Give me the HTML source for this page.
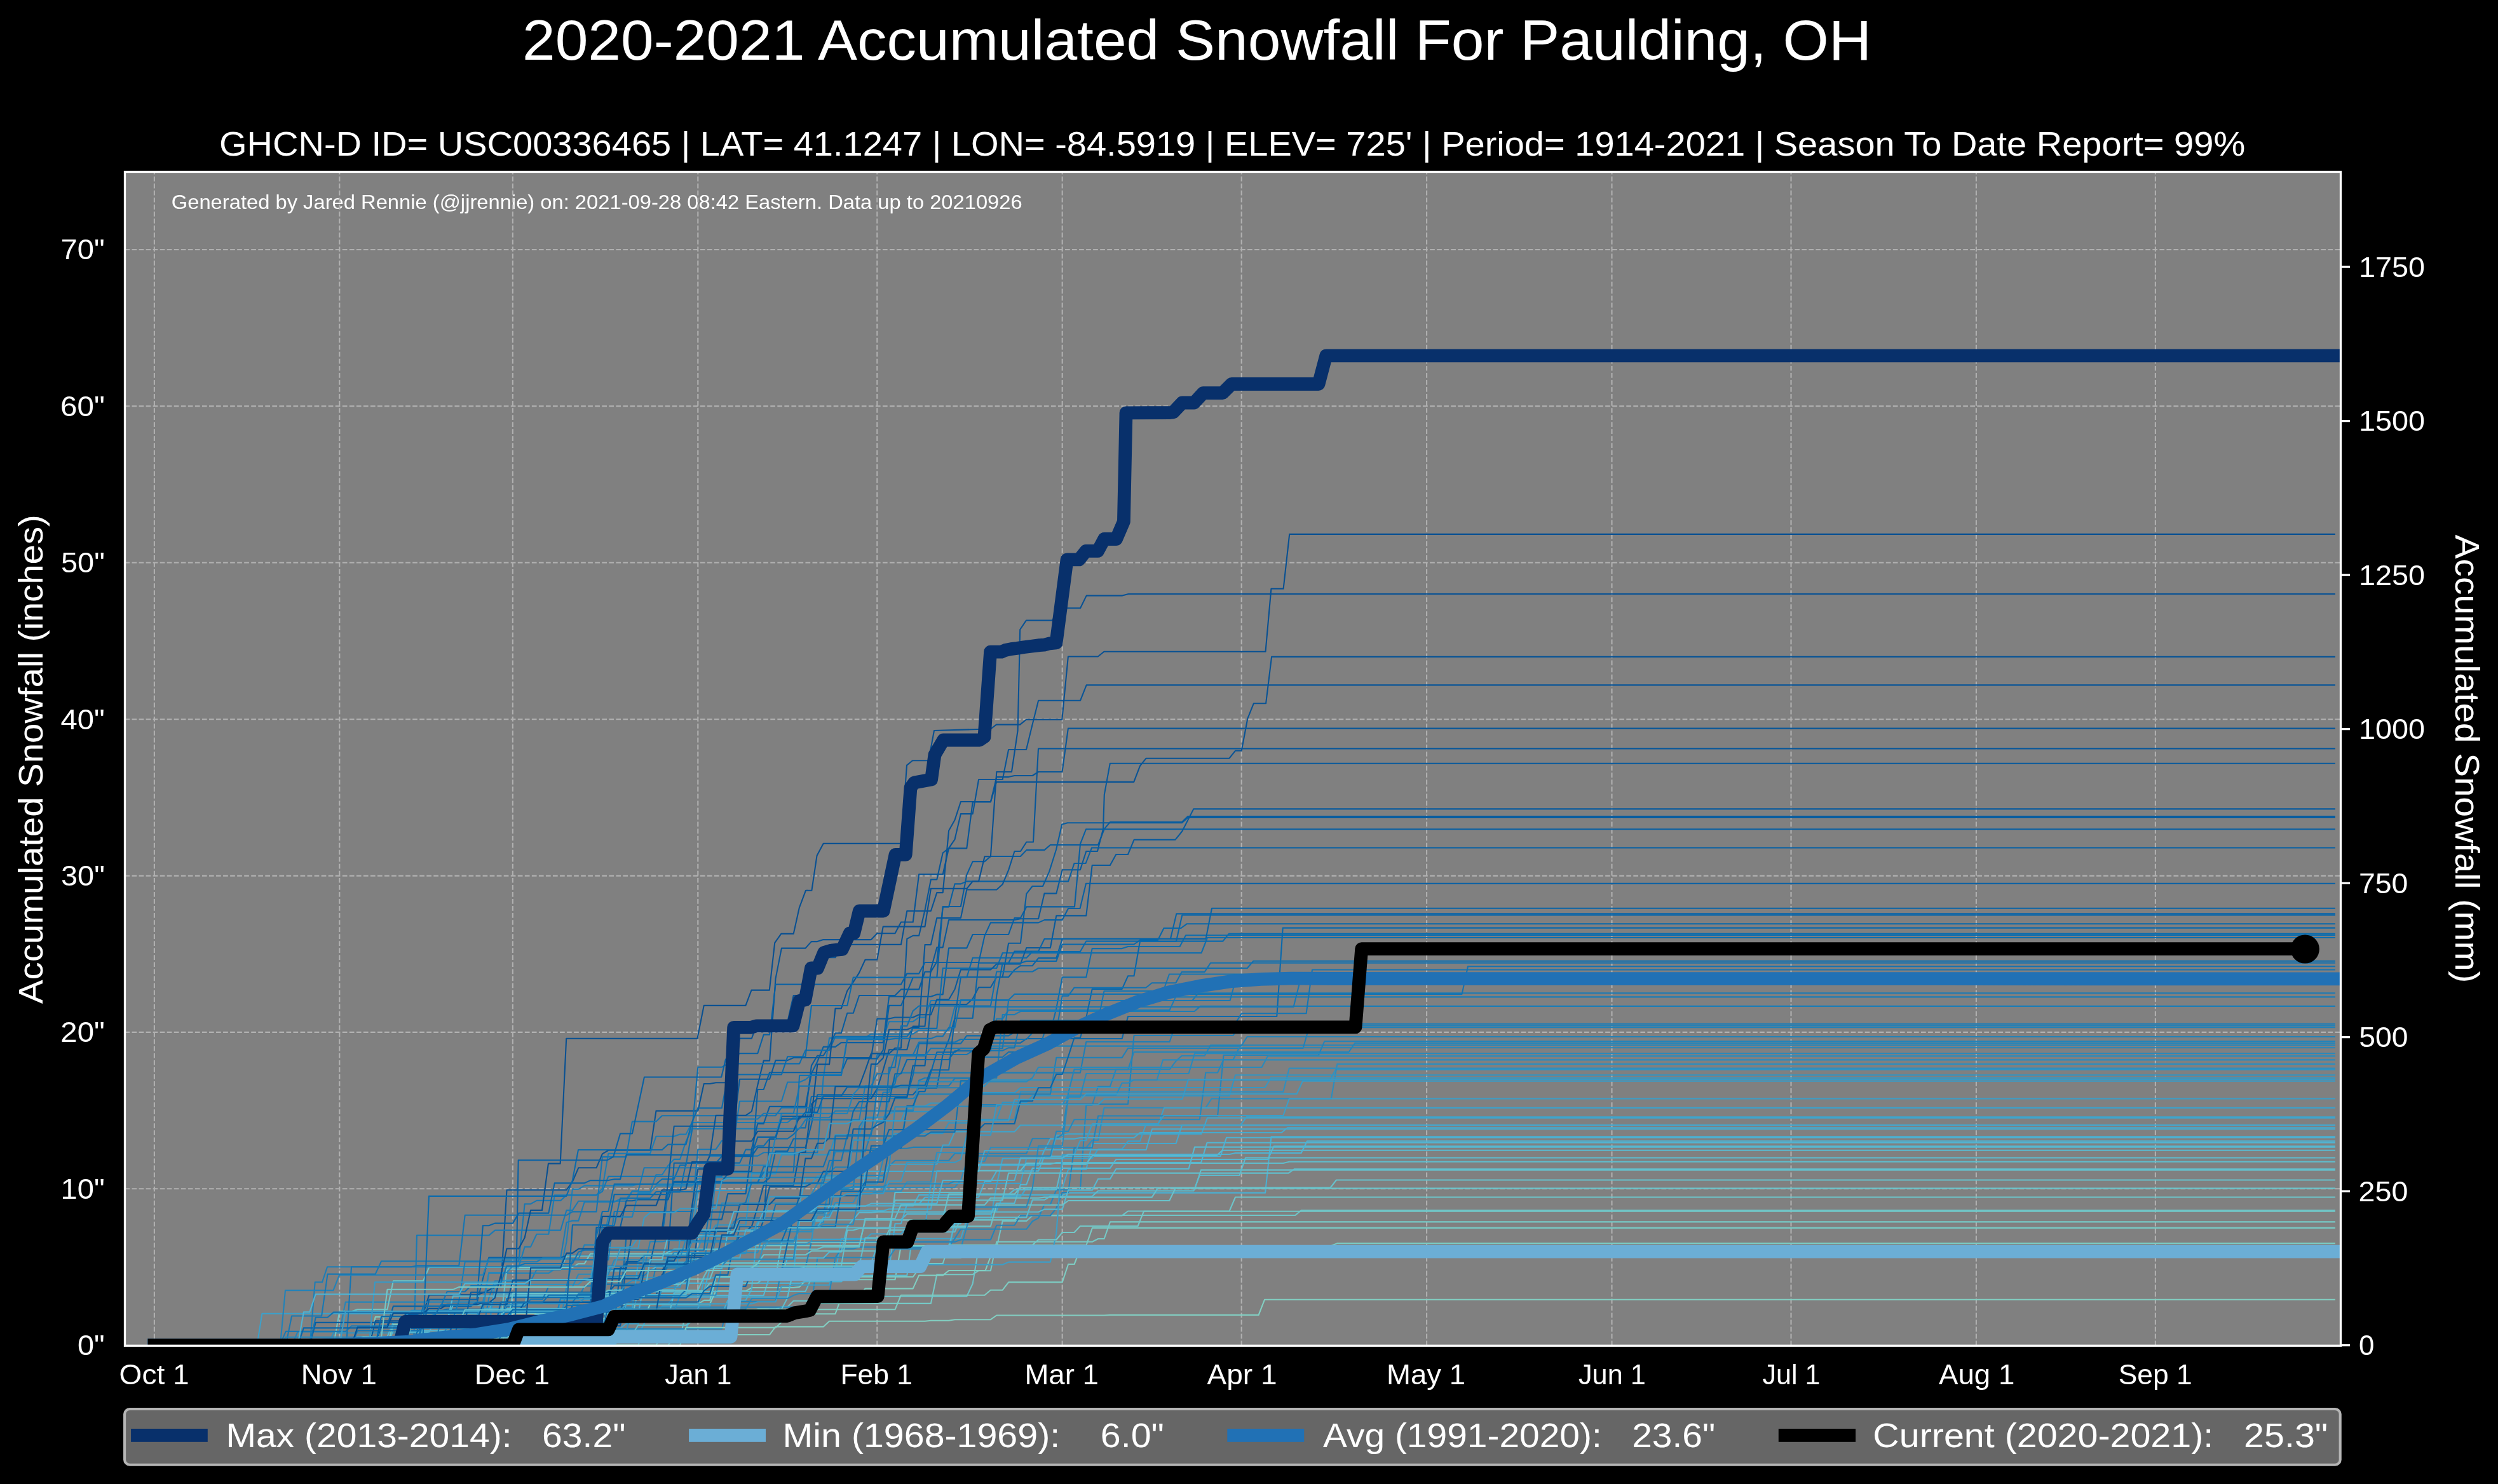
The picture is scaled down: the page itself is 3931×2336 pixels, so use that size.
<!DOCTYPE html>
<html><head><meta charset="utf-8"><title>2020-2021 Accumulated Snowfall For Paulding, OH</title><style>html,body{margin:0;padding:0;background:#000;width:3931px;height:2336px;overflow:hidden}svg text{font-family:"Liberation Sans",sans-serif}</style></head><body>
<svg xmlns="http://www.w3.org/2000/svg" width="3931" height="2336" viewBox="0 0 3931 2336" style="position:absolute;left:0;top:0;display:block;will-change:transform" font-family='"Liberation Sans", sans-serif'>
<rect width="3931" height="2336" fill="#000"/>
<rect x="196.5" y="270.5" width="3487" height="1847.8" fill="#808080"/>
<text x="269.8" y="329" font-size="30.9" text-anchor="start" fill="#fff" textLength="1338.9" lengthAdjust="spacingAndGlyphs">Generated by Jared Rennie (@jjrennie) on: 2021-09-28 08:42 Eastern. Data up to 20210926</text>
<clipPath id="pc"><rect x="196.5" y="270.5" width="3487" height="1847.8"/></clipPath>
<path d="M242.9 2118.3V270.5M534.3 2118.3V270.5M806.9 2118.3V270.5M1098.3 2118.3V270.5M1380.3 2118.3V270.5M1671.7 2118.3V270.5M1953.7 2118.3V270.5M2245.1 2118.3V270.5M2536.5 2118.3V270.5M2818.5 2118.3V270.5M3109.9 2118.3V270.5M3391.9 2118.3V270.5M196.5 1871.3H3683.5M196.5 1624.9H3683.5M196.5 1378.6H3683.5M196.5 1132.2H3683.5M196.5 885.8H3683.5M196.5 639.4H3683.5M196.5 393H3683.5" stroke="#b0b0b0" stroke-width="2.08" stroke-dasharray="7.708 3.333" fill="none"/>
<g clip-path="url(#pc)" fill="none" stroke-linejoin="round">
<polyline points="242.9,2117.7 1004.3,2117.7 1013.7,2094.4 1079.5,2094.4 1088.9,2062.7 1182.9,2062.7 1192.3,2060.4 1220.5,2060.4 1229.9,2057.2 1239.3,2057.2 1248.7,2047.7 1342.7,2047.7 1352.1,2040.8 1521.3,2040.8 1530.7,2020.7 1540.1,1964.3 1568.3,1964.3 1577.7,1921.9 1615.3,1921.9 1624.7,1913.4 1765.7,1913.4 1775.1,1906.5 1934.6,1906.5 1944,1884.5 3673.9,1884.5" stroke="#6dc4c9" stroke-width="2.08" stroke-linecap="square"/>
<polyline points="242.9,2117.7 609.5,2117.7 618.9,2091 976.1,2091 985.5,2083.7 1004.3,2083.7 1013.7,2066.7 1032.5,2066.7 1041.9,2056.1 1117.1,2056.1 1126.5,2010.6 1182.9,2010.6 1192.3,2007.5 1201.7,2007.5 1211.1,2004.6 1314.5,2004.6 1323.9,1949.7 1511.9,1949.7 1521.3,1919.5 1558.9,1919.5 1568.3,1865.6 1577.7,1823.7 1652.9,1823.7 1662.3,1787.1 1671.7,1787.1 1681.1,1785 1890.6,1785 1900,1759.7 3673.9,1759.7" stroke="#41a5cb" stroke-width="2.08" stroke-linecap="square"/>
<polyline points="242.9,2117.7 703.5,2117.7 712.9,2096.9 882.1,2096.9 891.5,2083.6 966.7,2083.6 976.1,2057.6 1276.9,2057.6 1286.3,1980.1 1314.5,1980.1 1323.9,1965.8 1342.7,1965.8 1352.1,1963 1493.1,1963 1502.5,1949.6 1511.9,1934.8 1615.3,1934.8 1624.7,1922.5 1634.1,1917.3 1643.5,1896 1652.9,1896 1662.3,1873 1699.9,1873 1709.3,1739.7 1718.7,1739.7 1728.1,1710.3 1746.9,1710.3 1756.3,1683.1 1840.9,1683.1 1850.3,1670.5 1859.7,1662 1895.6,1662 1905,1645.2 3673.9,1645.2" stroke="#2586bb" stroke-width="2.08" stroke-linecap="square"/>
<polyline points="242.9,2117.7 882.1,2117.7 891.5,2098.3 947.9,2098.3 957.3,2036.9 1023.1,2036.9 1032.5,1991.7 1117.1,1991.7 1126.5,1946.7 1145.3,1946.7 1154.7,1923.4 1164.1,1917.3 1229.9,1917.3 1239.3,1909.5 1295.7,1909.5 1305.1,1872.4 1342.7,1872.4 1352.1,1773.4 1361.5,1759.5 1380.3,1759.5 1389.7,1719.6 1399.1,1719.6 1408.5,1698.8 1417.9,1688.6 1699.9,1688.6 1709.3,1640 1840.6,1640 1850,1611.8 3673.9,1611.8" stroke="#1e7eb7" stroke-width="2.08" stroke-linecap="square"/>
<polyline points="242.9,2117.7 1051.3,2117.7 1060.7,2106 1070.1,2106 1079.5,2066.5 1267.5,2066.5 1276.9,2051.9 1464.9,2051.9 1474.3,2006.2 1530.7,2006.2 1540.1,2000.2 1558.9,2000.2 1568.3,1954.8 1718.7,1954.8 1728.1,1950 1737.6,1950 1747,1923.4 3673.9,1923.4" stroke="#75c9c6" stroke-width="2.08" stroke-linecap="square"/>
<polyline points="242.9,2117.7 581.3,2117.7 590.7,2073 797.5,2073 806.9,2067 1051.3,2067 1060.7,2064 1154.7,2064 1164.1,2061.3 1408.5,2061.3 1417.9,2038.7 1549.5,2038.7 1558.9,2030.7 1577.7,2030.7 1587.1,2018.4 1671.7,2018.4 1681.1,1990 1690.6,1990 1700,1966 3673.9,1966" stroke="#7dcdc3" stroke-width="2.08" stroke-linecap="square"/>
<polyline points="242.9,2117.7 515.5,2117.7 524.9,2098.2 741.1,2098.2 750.5,2091.4 769.3,2091.4 778.7,2021.9 910.3,2021.9 919.7,2012.3 957.3,2012.3 966.7,2010.7 1041.9,2010.7 1051.3,1972.8 1060.7,1966.5 1098.3,1966.5 1107.7,1941 1117.1,1941 1126.5,1928.3 1173.5,1928.3 1182.9,1847.8 1220.5,1847.8 1229.9,1817.8 1305.1,1817.8 1314.5,1786.2 1352.1,1786.2 1361.5,1758.5 1389.7,1758.5 1399.1,1753.1 1408.5,1749.9 1493.1,1749.9 1502.5,1719 1521.3,1719 1530.7,1709.6 1549.5,1709.6 1558.9,1700 2092.6,1700 2102,1683.6 3673.9,1683.6" stroke="#3092c1" stroke-width="2.08" stroke-linecap="square"/>
<polyline points="242.9,2117.7 618.9,2117.7 628.3,2096.6 637.7,2096.6 647.1,2063.4 694.1,2063.4 703.5,2060.8 919.7,2060.8 929.1,2053.4 976.1,2053.4 985.5,1947.3 1041.9,1947.3 1051.3,1876.4 1070.1,1876.4 1079.5,1830.6 1164.1,1830.6 1173.5,1809.6 1182.9,1809.6 1192.3,1803.8 1201.7,1803.8 1211.1,1792.5 1239.3,1792.5 1248.7,1785.7 1258.1,1775.4 1267.5,1775.4 1276.9,1726 1427.3,1726 1436.7,1692.6 1446.1,1642.6 1511.9,1642.6 1521.3,1630.4 1587.1,1630.4 1596.5,1624.8 1652.9,1624.8 1662.3,1587.5 1671.7,1538.2 1709.3,1538.2 1718.7,1493.1 1765.7,1493.1 1775.1,1490 1856.6,1490 1866,1472.3 3673.9,1472.3" stroke="#0d6dae" stroke-width="2.08" stroke-linecap="square"/>
<polyline points="242.9,2117.7 581.3,2117.7 590.7,2079.4 637.7,2079.4 647.1,2068.1 665.9,2068.1 675.3,2038.4 750.5,2038.4 759.9,2035.1 769.3,2030.7 778.7,2026.2 788.1,2026.2 797.5,1873.2 891.5,1873.2 900.9,1860.1 910.3,1838.3 938.5,1838.3 947.9,1816.4 957.3,1810.8 1023.1,1810.8 1032.5,1748.6 1098.3,1748.6 1107.7,1706 1117.1,1706 1126.5,1704.2 1154.7,1704.2 1164.1,1634.6 1182.9,1634.6 1192.3,1608.6 1239.3,1608.6 1248.7,1567 1267.5,1567 1276.9,1533.5 1286.3,1507.2 1314.5,1507.2 1323.9,1486.9 1417.9,1486.9 1427.3,1434 1464.9,1434 1474.3,1405.1 1483.7,1405.1 1493.1,1307.4 1502.5,1290.8 1511.9,1262 1559,1262 1568.1,1230.9 1784.3,1230.9 1794,1205.7 1803.6,1193.7 1934.5,1193.7 1944.1,1181.7 1953.7,1181.7 1963.3,1131.2 1972.9,1107.2 1992.1,1107.2 2001.1,1033.9 3673.9,1033.9" stroke="#085395" stroke-width="2.08" stroke-linecap="square"/>
<polyline points="242.9,2117.7 731.7,2117.7 741.1,2101.6 750.5,2101.6 759.9,2096.5 769.3,2043.3 778.7,2016.6 835.1,2016.6 844.5,1998.6 882.1,1998.6 891.5,1954.7 900.9,1871.9 910.3,1871.9 919.7,1866.4 994.9,1866.4 1004.3,1864 1107.7,1864 1117.1,1845.7 1305.1,1845.7 1314.5,1837.3 1361.5,1837.3 1370.9,1807.7 1427.3,1807.7 1436.7,1805.9 1521.3,1805.9 1530.7,1739 1615.3,1739 1624.7,1738 1775.1,1738 1784.5,1630 1940.6,1630 1950,1614.5 3673.9,1614.5" stroke="#1f80b8" stroke-width="2.08" stroke-linecap="square"/>
<polyline points="242.9,2117.7 651,2117.7 656,1944.6 769.5,1944.6 779,1936.6 882.1,1936.6 891.5,1905.1 900.9,1905.1 910.3,1890.7 985.5,1890.7 994.9,1874.9 1004.3,1874.9 1013.7,1838.2 1107.7,1838.2 1117.1,1819.6 1192.3,1819.6 1201.7,1814.3 1286.3,1814.3 1295.7,1696.4 1305.1,1633.9 1389.7,1633.9 1399.1,1608.2 1436.7,1608.2 1446.1,1601.4 1455.5,1601.4 1464.9,1575 1876.3,1575 1885.7,1563.3 3673.9,1563.3" stroke="#1a7ab5" stroke-width="2.08" stroke-linecap="square"/>
<polyline points="242.9,2117.7 590.7,2117.7 600.1,2086.9 609.5,2086.9 618.9,2056.1 741.1,2056.1 750.5,2051.3 759.9,2012.7 769.3,1979.6 882.1,1979.6 891.5,1976.5 1051.3,1976.5 1060.7,1830.8 1126.5,1830.8 1135.9,1820.1 1182.9,1820.1 1192.3,1806.3 1267.5,1806.3 1276.9,1769.8 1286.3,1723.3 1436.7,1723.3 1446.1,1712.6 1474.3,1712.6 1483.7,1659.9 1493.1,1636.7 1502.5,1603.1 1511.9,1538 1587.1,1538 1596.5,1526.7 1605.9,1520.2 1624.7,1520.2 1634.1,1508.1 1662.3,1508.1 1671.7,1477.9 1897.6,1477.9 1907,1429.7 3673.9,1429.7" stroke="#0863a7" stroke-width="2.08" stroke-linecap="square"/>
<polyline points="242.9,2117.7 806.9,2117.7 816.3,2104.3 900.9,2104.3 910.3,2078 957.3,2078 966.7,2030.3 1060.7,2030.3 1070.1,2020.4 1079.5,2020.4 1088.9,1989 1126.5,1989 1135.9,1982.8 1220.5,1982.8 1229.9,1979.7 1248.7,1979.7 1258.1,1922.2 1295.7,1922.2 1305.1,1898.3 1436.7,1898.3 1446.1,1880.9 1671.7,1880.9 1681.1,1877.6 1991.1,1877.6 2000.5,1789.4 3673.9,1789.4" stroke="#4aafd1" stroke-width="2.08" stroke-linecap="square"/>
<polyline points="242.9,2117.7 459.1,2117.7 468.5,2096.4 534.3,2096.4 543.7,2049.6 759.9,2049.6 769.3,2004 863.3,2004 872.7,1998 1013.7,1998 1023.1,1954.4 1041.9,1954.4 1051.3,1952.7 1248.7,1952.7 1258.1,1935.4 1276.9,1935.4 1286.3,1891.5 1295.7,1850.3 1389.7,1850.3 1399.1,1835.8 1408.5,1826.8 1493.1,1826.8 1502.5,1815.8 1615.3,1815.8 1624.7,1792.3 1662.3,1792.3 1671.7,1785.7 1681.1,1720.8 1690.5,1683.4 1775.1,1683.4 1784.5,1656 2122.6,1656 2132,1642.1 3673.9,1642.1" stroke="#2485ba" stroke-width="2.08" stroke-linecap="square"/>
<polyline points="242.9,2117.7 1032.5,2117.7 1041.9,2101 1211.1,2101 1220.5,2088.4 1295.7,2088.4 1305.1,2079.8 1455.5,2079.8 1464.9,2078.8 1493.1,2078.8 1502.5,2077.2 1558.9,2077.2 1568.3,2070.5 1737.5,2070.5 1746.9,2070 1980.6,2070 1990,2045.8 3673.9,2045.8" stroke="#82cfc2" stroke-width="2.08" stroke-linecap="square"/>
<polyline points="242.9,2117.7 524.9,2117.7 534.3,2064.2 553.1,2064.2 562.5,2061.2 609.5,2061.2 618.9,2016.3 665.9,2016.3 675.3,1994.9 900.9,1994.9 910.3,1989.2 919.7,1989.2 929.1,1973.6 1145.3,1973.6 1154.7,1960.7 1352.1,1960.7 1361.5,1920.4 1596.5,1920.4 1605.9,1913 2038.3,1913 2047.7,1905.3 3673.9,1905.3" stroke="#6fc6c8" stroke-width="2.08" stroke-linecap="square"/>
<polyline points="242.9,2117.7 553.1,2117.7 562.5,2088.1 797.5,2088.1 806.9,2084 891.5,2084 900.9,2081.5 976.1,2081.5 985.5,2052.6 1051.3,2052.6 1060.7,2041.6 1239.3,2041.6 1248.7,1998.9 1436.7,1998.9 1446.1,1996.9 1455.5,1983.5 1464.9,1974.5 1474.3,1974.5 1483.7,1970.8 1493.1,1970.8 1502.5,1921.5 1511.9,1905.8 1568.3,1905.8 1577.7,1883.6 1605.9,1883.6 1615.3,1870.2 1671.7,1870.2 1681.1,1840.9 1709.3,1840.9 1718.7,1800 1850.6,1800 1860,1771.1 3673.9,1771.1" stroke="#44a7cd" stroke-width="2.08" stroke-linecap="square"/>
<polyline points="242.9,2117.7 609.5,2117.7 618.9,2094.6 788.1,2094.6 797.5,2039.1 1201.7,2039.1 1211.1,2009.1 1229.9,2009.1 1239.3,1980.3 1295.7,1980.3 1305.1,1970.8 1323.9,1970.8 1333.3,1931 1342.7,1919.7 1417.9,1919.7 1427.3,1910.9 1558.9,1910.9 1568.3,1894 1596.5,1894 1605.9,1864.7 1615.3,1864.7 1624.7,1838.9 1746.9,1838.9 1756.3,1825 1995.2,1825 2004.6,1804.2 3673.9,1804.2" stroke="#54b6d1" stroke-width="2.08" stroke-linecap="square"/>
<polyline points="242.9,2117.7 609.5,2117.7 618.9,2084.6 825.7,2084.6 835.1,2075.6 1013.7,2075.6 1023.1,2052.5 1117.1,2052.5 1126.5,2032.3 1173.5,2032.3 1182.9,2027 1248.7,2027 1258.1,2025.7 1267.5,2015.8 1295.7,2015.8 1305.1,2014.2 1408.5,2014.2 1417.9,1961 2094.9,1961 2104.3,1957.1 3673.9,1957.1" stroke="#7accc4" stroke-width="2.08" stroke-linecap="square"/>
<polyline points="242.9,2117.7 910.3,2117.7 919.7,2101.3 1004.3,2101.3 1013.7,2083.6 1023.1,2069.1 1041.9,2069.1 1051.3,2062.2 1098.3,2062.2 1107.7,2012.3 1117.1,2012.3 1126.5,2010.6 1248.7,2010.6 1258.1,1895.6 1267.5,1854.4 1389.7,1854.4 1399.1,1832.7 1474.3,1832.7 1483.7,1802.5 1493.1,1802.5 1502.5,1781.4 1596.5,1781.4 1605.9,1771.2 1952.1,1771.2 1961.5,1758.3 3673.9,1758.3" stroke="#3fa3ca" stroke-width="2.08" stroke-linecap="square"/>
<polyline points="242.9,2117.7 618.9,2117.7 628.3,2096.9 675.3,2096.9 684.7,2076.8 703.5,2076.8 712.9,2054.4 825.7,2054.4 835.1,2015.3 929.1,2015.3 938.5,2000.5 1023.1,2000.5 1032.5,1994.2 1041.9,1994.2 1051.3,1988 1370.9,1988 1380.3,1962 1493.1,1962 1502.5,1926.4 1511.9,1926.4 1521.3,1875.1 1530.7,1832.7 1652.9,1832.7 1662.3,1830 1890.1,1830 1899.5,1798.8 3673.9,1798.8" stroke="#51b5d2" stroke-width="2.08" stroke-linecap="square"/>
<polyline points="242.9,2117.7 750.5,2117.7 759.9,2073.7 835.1,2073.7 844.5,2068.6 1004.3,2068.6 1013.7,2019.9 1258.1,2019.9 1267.5,2017.4 1323.9,2017.4 1333.3,2010 1342.7,2010 1352.1,2004.3 1361.5,1999.2 1399.1,1999.2 1408.5,1926.3 1417.9,1926.3 1427.3,1895.3 1446.1,1895.3 1455.5,1884.7 1540.1,1884.7 1549.5,1860 1558.9,1860 1568.3,1843.4 1634.1,1843.4 1643.5,1820 1920.6,1820 1930,1790.8 3673.9,1790.8" stroke="#4cb1d2" stroke-width="2.08" stroke-linecap="square"/>
<polyline points="242.9,2117.7 900.9,2117.7 910.3,2082.6 976.1,2082.6 985.5,1986.1 1004.3,1986.1 1013.7,1976.3 1145.3,1976.3 1154.7,1959.1 1164.1,1945.7 1192.3,1945.7 1201.7,1920.4 1211.1,1793 1220.5,1793 1229.9,1757.2 1267.5,1757.2 1276.9,1677.4 1286.3,1661.7 1295.7,1661.7 1305.1,1646.5 1314.5,1626.2 1323.9,1626.2 1333.3,1594.8 1342.7,1594.8 1352.1,1567 1408.5,1567 1417.9,1557.4 1446.1,1557.4 1455.5,1529.7 1464.9,1529.7 1474.3,1513.9 1483.7,1427 1511.9,1427 1521.3,1377.1 1530.7,1356.1 1549.5,1356.1 1558.9,1348 1605.9,1348 1615.3,1338.1 1643.5,1338.1 1652.9,1330 1728,1330 1737.8,1304.9 1746.8,1294.1 1860,1294.1 1869.3,1285 3673.9,1285" stroke="#085c9f" stroke-width="2.08" stroke-linecap="square"/>
<polyline points="242.9,2117.7 769.3,2117.7 778.7,2093.6 788.1,2087.1 976.1,2087.1 985.5,2039.6 1032.5,2039.6 1041.9,2006.4 1088.9,2006.4 1098.3,1938.3 1173.5,1938.3 1182.9,1930.6 1192.3,1899.7 1201.7,1865.8 1248.7,1865.8 1258.1,1813.9 1267.5,1813.9 1276.9,1738 1286.3,1729.3 1370.9,1729.3 1380.3,1713.9 1389.7,1684.6 1399.1,1652.2 1427.3,1652.2 1436.7,1615.5 1455.5,1615.5 1464.9,1525.7 1474.3,1491.4 1483.7,1491.4 1493.1,1448 1596.5,1448 1605.9,1446.2 1634.1,1446.2 1643.5,1406.4 1662.3,1406.4 1671.7,1369.2 1699.9,1369.2 1709.3,1340 1727,1340 1736,1305 1737.8,1250.9 1746.8,1201.8 3673.9,1201.8" stroke="#08599c" stroke-width="2.08" stroke-linecap="square"/>
<polyline points="242.9,2117.7 703.5,2117.7 712.9,2071.4 900.9,2071.4 910.3,2049.4 947.9,2049.4 957.3,2033.9 976.1,2033.9 985.5,2021.1 994.9,2015.9 1041.9,2015.9 1051.3,1984.3 1060.7,1971.8 1192.3,1971.8 1201.7,1939 1276.9,1939 1286.3,1927.7 1295.7,1923.9 1305.1,1869.1 1502.5,1869.1 1511.9,1857.7 1521.3,1828.2 1549.5,1828.2 1558.9,1806.3 1709.3,1806.3 1718.7,1794.9 1728.1,1794.9 1737.5,1743.8 1897.3,1743.8 1906.7,1729.4 2094.9,1729.4 2104.3,1674.9 3673.9,1674.9" stroke="#2c8dbf" stroke-width="2.08" stroke-linecap="square"/>
<polyline points="242.9,2117.7 404.4,2117.7 412.4,2067.9 650,2067.9 750.5,2067.9 759.9,2059.9 994.9,2059.9 1004.3,1986.7 1079.5,1986.7 1088.9,1982.3 1117.1,1982.3 1126.5,1965.7 1201.7,1965.7 1211.1,1950.9 1361.5,1950.9 1370.9,1942.2 1417.9,1942.2 1427.3,1933.3 1455.5,1933.3 1464.9,1862.9 1605.9,1862.9 1615.3,1823.5 1718.7,1823.5 1728.1,1808.9 1765.7,1808.9 1775.1,1796.4 1793.9,1796.4 1803.3,1770 1822.6,1770 1832,1743.9 3673.9,1743.9" stroke="#3da0c9" stroke-width="2.08" stroke-linecap="square"/>
<polyline points="242.9,2117.7 806.9,2117.7 816.3,2095.4 966.7,2095.4 976.1,2092.7 1079.5,2092.7 1088.9,2069.4 1135.9,2069.4 1145.3,2046.7 1173.5,2046.7 1182.9,2029.5 1192.3,1928.1 1201.7,1905.9 1389.7,1905.9 1399.1,1903.2 1464.9,1903.2 1474.3,1843.4 1530.7,1843.4 1540.1,1834.2 1634.1,1834.2 1643.5,1810 1803.6,1810 1813,1777.2 3673.9,1777.2" stroke="#48accf" stroke-width="2.08" stroke-linecap="square"/>
<polyline points="242.9,2117.7 694.1,2117.7 703.5,2099.2 844.5,2099.2 853.9,2098.1 910.3,2098.1 919.7,2095.7 947.9,2095.7 957.3,2053 1098.3,2053 1107.7,2046.9 1117.1,2046.9 1126.5,2010 1436.7,2010 1446.1,1996.9 1455.5,1979.7 1511.9,1979.7 1521.3,1970.8 1568.3,1970.8 1577.7,1960 1709.5,1960 1718.9,1932.9 3673.9,1932.9" stroke="#78cac5" stroke-width="2.08" stroke-linecap="square"/>
<polyline points="242.9,2117.7 872.7,2117.7 882.1,2100.8 919.7,2100.8 929.1,2091.7 1135.9,2091.7 1145.3,2054.1 1154.7,2054.1 1164.1,2048.7 1220.5,2048.7 1229.9,1995.2 1267.5,1995.2 1276.9,1954.9 1502.5,1954.9 1511.9,1951.5 1558.9,1951.5 1568.3,1928.7 1596.5,1928.7 1605.9,1913.5 1652.9,1913.5 1662.3,1901.8 1671.7,1877.1 1681.1,1877.1 1690.5,1806.7 1718.7,1806.7 1728.1,1756.5 1916.1,1756.5 1925.5,1661 2074.9,1661 2084.3,1639.1 3673.9,1639.1" stroke="#2383ba" stroke-width="2.08" stroke-linecap="square"/>
<polyline points="242.9,2117.7 590.7,2117.7 600.1,2072 712.9,2072 722.3,2064.1 769.3,2064.1 778.7,2036.8 1004.3,2036.8 1013.7,2033.5 1107.7,2033.5 1117.1,1997 1126.5,1997 1135.9,1980.3 1164.1,1980.3 1173.5,1935.7 1258.1,1935.7 1267.5,1932.6 1286.3,1932.6 1295.7,1916.8 1305.1,1916.8 1314.5,1896.9 1352.1,1896.9 1361.5,1843.9 1540.1,1843.9 1549.5,1811.3 1643.5,1811.3 1652.9,1792.6 1690.5,1792.6 1699.9,1791 1784.5,1791 1793.9,1783 2016.6,1783 2026,1775.2 3673.9,1775.2" stroke="#46aace" stroke-width="2.08" stroke-linecap="square"/>
<polyline points="242.9,2117.7 1070.1,2117.7 1079.5,2089.9 1220.5,2089.9 1229.9,2081.3 1239.3,2068.2 1314.5,2068.2 1323.9,2042.4 1352.1,2042.4 1361.5,2028.4 1436.7,2028.4 1446.1,2007.6 1483.7,2007.6 1493.1,2000 1550.6,2000 1560,1975 3673.9,1975" stroke="#80cec2" stroke-width="2.08" stroke-linecap="square"/>
<polyline points="242.9,2117.7 741.1,2117.7 750.5,2076.7 778.7,2076.7 788.1,2065.4 1060.7,2065.4 1070.1,2038.8 1126.5,2038.8 1135.9,1992.8 1145.3,1973.2 1173.5,1973.2 1182.9,1935.3 1276.9,1935.3 1286.3,1912.5 1305.1,1912.5 1314.5,1893 1342.7,1893 1352.1,1875.1 1417.9,1875.1 1427.3,1860.5 1464.9,1860.5 1474.3,1814.2 1521.3,1814.2 1530.7,1800 1540.1,1762.4 1596.5,1762.4 1605.9,1718.6 2019.4,1718.6 2028.8,1681.6 3673.9,1681.6" stroke="#2e8fc0" stroke-width="2.08" stroke-linecap="square"/>
<polyline points="242.9,2117.7 712.9,2117.7 722.3,2096.2 872.7,2096.2 882.1,2045.2 957.3,2045.2 966.7,2042.8 1041.9,2042.8 1051.3,2038.8 1060.7,2038.8 1070.1,1948.4 1088.9,1948.4 1098.3,1874 1173.5,1874 1182.9,1863.5 1276.9,1863.5 1286.3,1851.3 1352.1,1851.3 1361.5,1764.4 1417.9,1764.4 1427.3,1741.2 1455.5,1741.2 1464.9,1736.5 1511.9,1736.5 1521.3,1720.1 1596.5,1720.1 1605.9,1712 1990.6,1712 2000,1696.7 3673.9,1696.7" stroke="#3597c4" stroke-width="2.08" stroke-linecap="square"/>
<polyline points="242.9,2117.7 731.7,2117.7 741.1,2105.6 797.5,2105.6 806.9,2100.5 994.9,2100.5 1004.3,2086 1079.5,2086 1088.9,2080.1 1107.7,2080.1 1117.1,2073.9 1164.1,2073.9 1173.5,2072.4 1201.7,2072.4 1211.1,2060.7 1229.9,2060.7 1239.3,2042.9 1248.7,1996.7 1258.1,1996.7 1267.5,1994.2 1314.5,1994.2 1323.9,1993.1 1352.1,1993.1 1361.5,1948.6 1399.1,1948.6 1408.5,1877 1521.3,1877 1530.7,1842.9 1605.9,1842.9 1615.3,1831 2019.4,1831 2028.8,1828.8 3673.9,1828.8" stroke="#5fbdcd" stroke-width="2.08" stroke-linecap="square"/>
<polyline points="242.9,2117.7 487.7,2117.7 495.7,2018.3 507,2018.3 515,1994.3 788.7,1994.3 816.3,1994.3 825.7,1962.6 835.1,1962.6 844.5,1942.8 863.3,1942.8 872.7,1881.4 938.5,1881.4 947.9,1870.9 957.3,1815.9 1023.1,1815.9 1032.5,1788.7 1060.7,1788.7 1070.1,1785.6 1079.5,1785.6 1088.9,1767 1239.3,1767 1248.7,1759.2 1305.1,1759.2 1314.5,1748.8 1436.7,1748.8 1446.1,1700.7 1455.5,1696.7 1568.3,1696.7 1577.7,1597.1 1596.5,1597.1 1605.9,1592 1879.6,1592 1889,1583.9 3673.9,1583.9" stroke="#1c7db6" stroke-width="2.08" stroke-linecap="square"/>
<polyline points="242.9,2117.7 656.5,2117.7 665.9,2082.1 872.7,2082.1 882.1,2043.6 910.3,2043.6 919.7,2024.4 929.1,2024.4 938.5,2009.6 966.7,2009.6 976.1,2008.1 1013.7,2008.1 1023.1,1999.3 1041.9,1999.3 1051.3,1995.7 1070.1,1995.7 1079.5,1985.4 1107.7,1985.4 1117.1,1938.5 1126.5,1853.5 1295.7,1853.5 1305.1,1844.1 1314.5,1812.9 1361.5,1812.9 1370.9,1781.8 1380.3,1765.7 1389.7,1765.7 1399.1,1729.3 1436.7,1729.3 1446.1,1722.4 1652.9,1722.4 1662.3,1664.9 1765.7,1664.9 1775.1,1650 2050.6,1650 2060,1617.3 3673.9,1617.3" stroke="#2081b8" stroke-width="2.08" stroke-linecap="square"/>
<polyline points="242.9,2117.7 778.7,2117.7 788.1,2078.3 797.5,1997.7 882.1,1997.7 891.5,1977.2 1041.9,1977.2 1051.3,1970.8 1060.7,1966.5 1286.3,1966.5 1295.7,1962.8 1352.1,1962.8 1361.5,1918.2 1408.5,1918.2 1417.9,1896.6 1549.5,1896.6 1558.9,1885.8 1634.1,1885.8 1643.5,1884.6 1812.7,1884.6 1822.1,1870 1880.6,1870 1890,1841.6 3673.9,1841.6" stroke="#65c0cb" stroke-width="2.08" stroke-linecap="square"/>
<polyline points="242.9,2117.7 947.9,2117.7 957.3,2076 1051.3,2076 1060.7,2035.4 1098.3,2035.4 1107.7,2032.9 1267.5,2032.9 1276.9,2011.9 1286.3,2007.9 1427.3,2007.9 1436.7,1939.2 1502.5,1939.2 1511.9,1918.1 1530.7,1918.1 1540.1,1916.2 1615.3,1916.2 1624.7,1888.8 1643.5,1888.8 1652.9,1883.2 1718.7,1883.2 1728.1,1874.5 1878.5,1874.5 1887.9,1850 1950.6,1850 1960,1822.5 3673.9,1822.5" stroke="#5cbbce" stroke-width="2.08" stroke-linecap="square"/>
<polyline points="242.9,2117.7 684.7,2117.7 694.1,2076.1 712.9,2076.1 722.3,2047.6 731.7,1986.3 844.5,1986.3 853.9,1980.4 882.1,1980.4 891.5,1924.3 900.9,1921.6 910.3,1921.6 919.7,1892 966.7,1892 976.1,1887.4 985.5,1887.4 994.9,1875.8 1023.1,1875.8 1032.5,1849.2 1041.9,1849.2 1051.3,1834.9 1060.7,1824.9 1070.1,1824.9 1079.5,1796.7 1088.9,1776.8 1258.1,1776.8 1267.5,1762.6 1352.1,1762.6 1361.5,1709.4 1493.1,1709.4 1502.5,1697.5 1540.1,1697.5 1549.5,1649.2 1558.9,1649.2 1568.3,1603.8 1577.7,1603.8 1587.1,1590 1840.6,1590 1850,1569.4 3673.9,1569.4" stroke="#1b7cb6" stroke-width="2.08" stroke-linecap="square"/>
<polyline points="242.9,2117.7 919.7,2117.7 929.1,2094.8 957.3,2094.8 966.7,2072.1 994.9,2072.1 1004.3,2032.1 1107.7,2032.1 1117.1,2019.7 1192.3,2019.7 1201.7,2011.8 1220.5,2011.8 1229.9,1955.7 1389.7,1955.7 1399.1,1936.4 1474.3,1936.4 1483.7,1918.5 1493.1,1879.6 1596.5,1879.6 1605.9,1869.5 2093.6,1869.5 2103,1857.5 3673.9,1857.5" stroke="#67c1cb" stroke-width="2.08" stroke-linecap="square"/>
<polyline points="242.9,2117.7 816.3,2117.7 825.7,2081.6 882.1,2081.6 891.5,2025.5 900.9,2025.5 910.3,2005.8 957.3,2005.8 966.7,1983.2 1051.3,1983.2 1060.7,1980.9 1070.1,1980.9 1079.5,1950.1 1088.9,1941.9 1126.5,1941.9 1135.9,1893.8 1267.5,1893.8 1276.9,1879.7 1286.3,1863.4 1380.3,1863.4 1389.7,1825.5 1399.1,1797.5 1408.5,1797.5 1417.9,1792.9 1427.3,1747.3 1436.7,1747.3 1446.1,1702.6 1615.3,1702.6 1624.7,1696.6 1634.1,1680 1985.6,1680 1995,1662.4 3673.9,1662.4" stroke="#298abd" stroke-width="2.08" stroke-linecap="square"/>
<polyline points="242.9,2117.7 543.7,2117.7 553.1,2109.7 562.5,2104.2 609.5,2104.2 618.9,2081.7 675.3,2081.7 684.7,2080.7 703.5,2080.7 712.9,2040.3 994.9,2040.3 1004.3,2038 1079.5,2038 1088.9,1996.8 1135.9,1996.8 1145.3,1938.6 1154.7,1938.6 1164.1,1920.2 1342.7,1920.2 1352.1,1908.6 1370.9,1908.6 1380.3,1907.7 1634.1,1907.7 1643.5,1903.6 1671.7,1903.6 1681.1,1873.4 1718.7,1873.4 1728.1,1855.7 1746.9,1855.7 1756.3,1840 1870.6,1840 1880,1805.6 3673.9,1805.6" stroke="#57b8d0" stroke-width="2.08" stroke-linecap="square"/>
<polyline points="242.9,2117.7 844.5,2117.7 853.9,2104.3 976.1,2104.3 985.5,2095.6 994.9,2062.3 1032.5,2062.3 1041.9,2026.5 1070.1,2026.5 1079.5,1999.6 1088.9,1996.1 1117.1,1996.1 1126.5,1994.2 1192.3,1994.2 1201.7,1958.6 1267.5,1958.6 1276.9,1953.9 1286.3,1890.9 1295.7,1859.5 1314.5,1859.5 1323.9,1858.2 1333.3,1858.2 1342.7,1794.6 1399.1,1794.6 1408.5,1784.1 1483.7,1784.1 1493.1,1767.6 1521.3,1767.6 1530.7,1762 1568.3,1762 1577.7,1735.2 1615.3,1735.2 1624.7,1725 1934.6,1725 1944,1692.3 3673.9,1692.3" stroke="#3294c2" stroke-width="2.08" stroke-linecap="square"/>
<polyline points="242.9,2117.7 844.5,2117.7 853.9,2109.4 938.5,2109.4 947.9,2101.5 957.3,2051.5 966.7,2051.5 976.1,2043 1079.5,2043 1088.9,2036.3 1117.1,2036.3 1126.5,2006.9 1145.3,2006.9 1154.7,1954.1 1229.9,1954.1 1239.3,1931.2 1314.5,1931.2 1323.9,1875.2 1352.1,1875.2 1361.5,1860.6 1389.7,1860.6 1399.1,1806.9 1417.9,1806.9 1427.3,1741 1436.7,1741 1446.1,1718.1 1455.5,1718.1 1464.9,1688.2 1474.3,1656.3 1502.5,1656.3 1511.9,1650.1 1549.5,1650.1 1558.9,1641.7 1605.9,1641.7 1615.3,1635 1765.7,1635 1775.1,1600 2009.3,1600 2018.7,1460.6 3673.9,1460.6" stroke="#0969ad" stroke-width="2.08" stroke-linecap="square"/>
<polyline points="242.9,2117.7 545,2117.7 553,1994.3 600,1994.3 647.1,1994.3 656.5,1992.2 722.3,1992.2 731.7,1912.8 891.5,1912.8 900.9,1907.4 938.5,1907.4 947.9,1821.1 985.5,1821.1 994.9,1765.4 1032.5,1765.4 1041.9,1756.2 1220.5,1756.2 1229.9,1743.7 1361.5,1743.7 1370.9,1721.7 1380.3,1660.4 1436.7,1660.4 1446.1,1640.5 1502.5,1640.5 1511.9,1636 1615.3,1636 1624.7,1625.7 1746.9,1625.7 1756.3,1610.9 1944.3,1610.9 1953.7,1595.3 2055.6,1595.3 2065,1526.5 3673.9,1526.5" stroke="#1575b3" stroke-width="2.08" stroke-linecap="square"/>
<polyline points="242.9,2117.7 440.3,2117.7 449.7,2095.9 543.7,2095.9 553.1,2087.3 722.3,2087.3 731.7,2084.9 788.1,2084.9 797.5,2056.5 825.7,2056.5 835.1,2045.1 853.9,2045.1 863.3,2025.4 891.5,2025.4 900.9,1983.1 957.3,1983.1 966.7,1907 1088.9,1907 1098.3,1809.2 1126.5,1809.2 1135.9,1795.7 1154.7,1795.7 1164.1,1733.5 1229.9,1733.5 1239.3,1703.5 1258.1,1703.5 1267.5,1699.5 1276.9,1691.6 1323.9,1691.6 1333.3,1633.3 1361.5,1633.3 1370.9,1627.7 1436.7,1627.7 1446.1,1621.7 1493.1,1621.7 1502.5,1585 2035.6,1585 2045,1547.5 3673.9,1547.5" stroke="#1979b5" stroke-width="2.08" stroke-linecap="square"/>
<polyline points="242.9,2117.7 665.9,2117.7 675.3,2108.4 712.9,2108.4 722.3,2079 891.5,2079 900.9,2054.6 929.1,2054.6 938.5,1932.1 976.1,1932.1 985.5,1890.2 994.9,1890.2 1004.3,1888.4 1051.3,1888.4 1060.7,1859.8 1135.9,1859.8 1145.3,1847.6 1154.7,1843.9 1182.9,1843.9 1192.3,1715 1201.7,1715 1211.1,1688.2 1323.9,1688.2 1333.3,1666.4 1380.3,1666.4 1389.7,1653.2 1399.1,1582.9 1417.9,1582.9 1427.3,1561.8 1436.7,1538.9 1474.3,1538.9 1483.7,1427.6 1493.1,1427.6 1502.5,1391.4 1511.9,1391.4 1521.3,1387.4 1681.1,1387.4 1690.5,1359 1708.6,1359 1718,1334.5 3673.9,1334.5" stroke="#0860a3" stroke-width="2.08" stroke-linecap="square"/>
<polyline points="242.9,2117.7 684.7,2117.7 694.1,2098.3 844.5,2098.3 853.9,2084.8 966.7,2084.8 976.1,1996.1 985.5,1988.4 1023.1,1988.4 1032.5,1946.4 1041.9,1943.6 1079.5,1943.6 1088.9,1919.6 1135.9,1919.6 1145.3,1879.1 1173.5,1879.1 1182.9,1808.4 1192.3,1768.9 1201.7,1768.9 1211.1,1741.9 1267.5,1741.9 1276.9,1689.9 1286.3,1671 1295.7,1647.9 1314.5,1647.9 1323.9,1641.1 1389.7,1641.1 1399.1,1568.7 1464.9,1568.7 1474.3,1565.4 1483.7,1565.4 1493.1,1492.4 1521.3,1492.4 1530.7,1471 1587.1,1471 1596.5,1445 1606,1445 1615.3,1427.4 1691,1427.4 1700,1328.3 1709,1305.3 3673.9,1305.3" stroke="#085fa2" stroke-width="2.08" stroke-linecap="square"/>
<polyline points="242.9,2117.7 882.1,2117.7 891.5,2084.7 938.5,2084.7 947.9,2057.2 957.3,2057.2 966.7,2045.3 1004.3,2045.3 1013.7,2000.2 1041.9,2000.2 1051.3,1985 1060.7,1985 1070.1,1967.8 1079.5,1967.8 1088.9,1899 1098.3,1840.2 1107.7,1840.2 1117.1,1818.6 1126.5,1755.9 1173.5,1755.9 1182.9,1749.5 1192.3,1707.9 1201.7,1669.6 1211.1,1669.6 1220.5,1540.4 1229.9,1492.6 1267.5,1492.6 1276.9,1482.1 1286.3,1482.1 1295.7,1479.1 1370.9,1479.1 1380.3,1469.2 1408.5,1469.2 1417.9,1451.5 1436.7,1451.5 1446.1,1376.3 1483.7,1376.3 1493.1,1335.1 1502.5,1321.3 1511.9,1281.1 1530.7,1281.1 1540.1,1227 1577.7,1227 1587.1,1180 1615,1180 1624.5,1141 1634.1,1102.7 1700.1,1102.7 1709.7,1078.4 3673.9,1078.4" stroke="#085497" stroke-width="2.08" stroke-linecap="square"/>
<polyline points="242.9,2117.7 441,2117.7 449,2031.1 524.5,2031.1 534,2007 760,2007 769.3,1981.7 910.3,1981.7 919.7,1959.6 947.9,1959.6 957.3,1915.6 994.9,1915.6 1004.3,1877.9 1023.1,1877.9 1032.5,1866.6 1088.9,1866.6 1098.3,1855.8 1117.1,1855.8 1126.5,1834.2 1211.1,1834.2 1220.5,1789.2 1229.9,1752.9 1333.3,1752.9 1342.7,1722.6 1352.1,1712.2 1530.7,1712.2 1540.1,1646.6 1953.2,1646.6 1962.6,1632 3673.9,1632" stroke="#2182b9" stroke-width="2.08" stroke-linecap="square"/>
<polyline points="242.9,2117.7 647.1,2117.7 656.5,2096.7 665.9,2087.1 675.3,2084.5 788.1,2084.5 797.5,2044.3 806.9,2042.1 929.1,2042.1 938.5,1946.2 947.9,1907 957.3,1907 966.7,1863.9 1032.5,1863.9 1041.9,1856 1060.7,1856 1070.1,1834 1079.5,1834 1088.9,1780 1098.3,1679.8 1135.9,1679.8 1145.3,1674.4 1258.1,1674.4 1267.5,1653.2 1305.1,1653.2 1314.5,1631.7 1427.3,1631.7 1436.7,1618.9 1474.3,1618.9 1483.7,1524 1568.3,1524 1577.7,1500 1890.6,1500 1900,1476 3673.9,1476" stroke="#0e6eaf" stroke-width="2.08" stroke-linecap="square"/>
<polyline points="242.9,2117.7 487.3,2117.7 496.7,2081.9 731.7,2081.9 741.1,2034.3 957.3,2034.3 966.7,2023.8 1013.7,2023.8 1023.1,2016.3 1079.5,2016.3 1088.9,1928.7 1098.3,1928.7 1107.7,1907.7 1201.7,1907.7 1211.1,1868.1 1267.5,1868.1 1276.9,1862.6 1286.3,1862.6 1295.7,1843.9 1333.3,1843.9 1342.7,1777.2 1370.9,1777.2 1380.3,1771.3 1389.7,1766.9 1399.1,1753.4 1408.5,1727.9 1427.3,1727.9 1436.7,1677.4 1455.5,1677.4 1464.9,1581.1 1521.3,1581.1 1530.7,1572.2 1540.1,1554.2 1558.9,1554.2 1568.3,1538 1577.7,1538 1587.1,1484.8 1605.9,1484.8 1615.3,1406.9 1624.7,1395 1641,1395 1651.3,1371.6 1662.1,1337.3 1671.1,1297.7 1680,1295.2 1860,1295.2 1869.3,1287 3673.9,1287" stroke="#085da0" stroke-width="2.08" stroke-linecap="square"/>
<polyline points="242.9,2117.7 788.1,2117.7 797.5,2091.5 806.9,2035.9 1004.3,2035.9 1013.7,2021.8 1070.1,2021.8 1079.5,2013.5 1117.1,2013.5 1126.5,1988.4 1192.3,1988.4 1201.7,1975.3 1267.5,1975.3 1276.9,1969.3 1380.3,1969.3 1389.7,1948.2 1436.7,1948.2 1446.1,1930.4 1558.9,1930.4 1568.3,1896.8 1671.7,1896.8 1681.1,1890 1840.2,1890 1849.6,1870.6 3673.9,1870.6" stroke="#6ac3ca" stroke-width="2.08" stroke-linecap="square"/>
<polyline points="242.9,2117.7 778.7,2117.7 788.1,2103.5 797.5,2103.5 806.9,2050.2 900.9,2050.2 910.3,2036.9 938.5,2036.9 947.9,2021.5 1023.1,2021.5 1032.5,2011.6 1041.9,2011.6 1051.3,1990.5 1079.5,1990.5 1088.9,1915.8 1098.3,1862.4 1295.7,1862.4 1305.1,1826.9 1323.9,1826.9 1333.3,1786.4 1370.9,1786.4 1380.3,1715.5 1399.1,1715.5 1408.5,1705.7 1417.9,1660 1521.3,1660 1530.7,1653.9 1577.7,1653.9 1587.1,1649.4 1596.5,1649.4 1605.9,1606.4 1728.1,1606.4 1737.5,1560 1830.6,1560 1840,1533.5 3673.9,1533.5" stroke="#1676b3" stroke-width="2.08" stroke-linecap="square"/>
<polyline points="242.9,2117.7 468.5,2117.7 477.9,2090.4 778.7,2090.4 788.1,2049.5 1098.3,2049.5 1107.7,2031.8 1117.1,2024.9 1173.5,2024.9 1182.9,2001.7 1229.9,2001.7 1239.3,1956.3 1248.7,1913.6 1258.1,1882.3 1352.1,1882.3 1361.5,1866.2 1370.9,1803.6 1389.7,1803.6 1399.1,1778.1 1540.1,1778.1 1549.5,1769 1596.5,1769 1605.9,1733.2 1624.7,1733.2 1634.1,1712.3 1652.9,1712.3 1662.3,1691 1671.7,1691 1681.1,1663.2 1690.5,1633.8 1699.9,1633.8 1709.3,1601.9 1718.7,1556.9 1765.7,1556.9 1775.1,1536.3 1784.5,1536.3 1793.9,1482 1850.9,1482 1860.3,1440.4 3673.9,1440.4" stroke="#0866aa" stroke-width="2.08" stroke-linecap="square"/>
<polyline points="242.9,2117.7 449.7,2117.7 459.1,2071.5 506.1,2071.5 515.5,2005.6 590.7,2005.6 600.1,1985.3 816.3,1985.3 825.7,1895.2 835.1,1895.2 844.5,1889.9 882.1,1889.9 891.5,1881.2 938.5,1881.2 947.9,1875.6 957.3,1851.9 1135.9,1851.9 1145.3,1761.5 1192.3,1761.5 1201.7,1752.8 1248.7,1752.8 1258.1,1709.6 1370.9,1709.6 1380.3,1690.2 1399.1,1690.2 1408.5,1662.1 1455.5,1662.1 1464.9,1650.2 1577.7,1650.2 1587.1,1575 1935.6,1575 1945,1540.5 3673.9,1540.5" stroke="#1778b4" stroke-width="2.08" stroke-linecap="square"/>
<polyline points="242.9,2117.7 487.3,2117.7 496.7,2073.8 515.5,2073.8 524.9,2065.6 882.1,2065.6 891.5,2055 976.1,2055 985.5,2039.7 1070.1,2039.7 1079.5,2030.4 1088.9,1973.2 1154.7,1973.2 1164.1,1931 1211.1,1931 1220.5,1895.7 1305.1,1895.7 1314.5,1788.2 1455.5,1788.2 1464.9,1782 1502.5,1782 1511.9,1701.3 1530.7,1701.3 1540.1,1664 1577.7,1664 1587.1,1656 1634.1,1656 1643.5,1625.4 1662.3,1625.4 1671.7,1567.6 1681.1,1567.6 1690.5,1554.7 1803.3,1554.7 1812.7,1547.3 1850.3,1547.3 1859.7,1530 1895.6,1530 1905,1515.8 3673.9,1515.8" stroke="#1272b1" stroke-width="2.08" stroke-linecap="square"/>
<polyline points="242.9,2117.7 731.7,2117.7 741.1,2070.7 750.5,2070.7 759.9,2053.5 806.9,2053.5 816.3,2052.1 910.3,2052.1 919.7,2043.6 1004.3,2043.6 1013.7,1975.9 1079.5,1975.9 1088.9,1954.9 1248.7,1954.9 1258.1,1932 1286.3,1932 1295.7,1927.4 1342.7,1927.4 1352.1,1879.5 1370.9,1879.5 1380.3,1876.1 1389.7,1876.1 1399.1,1839.2 1408.5,1742.4 1474.3,1742.4 1483.7,1741.5 1568.3,1741.5 1577.7,1738.6 1671.7,1738.6 1681.1,1723.8 1756.3,1723.8 1765.7,1704.8 1775.1,1704.8 1784.5,1700 1820.6,1700 1830,1668.4 3673.9,1668.4" stroke="#2a8bbe" stroke-width="2.08" stroke-linecap="square"/>
<polyline points="242.9,2117.7 628.3,2117.7 637.7,2069 656.5,2069 665.9,2066.6 731.7,2066.6 741.1,2064.1 816.3,2064.1 825.7,2050 957.3,2050 966.7,1997 985.5,1997 994.9,1940.7 1004.3,1934.6 1041.9,1934.6 1051.3,1860.3 1060.7,1772.8 1154.7,1772.8 1164.1,1698.8 1211.1,1698.8 1220.5,1669.1 1239.3,1669.1 1248.7,1665 1370.9,1665 1380.3,1603.6 1399.1,1603.6 1408.5,1601.5 1436.7,1601.5 1446.1,1597.3 1464.9,1597.3 1474.3,1573.4 1493.1,1573.4 1502.5,1557.2 1511.9,1526.4 1558.9,1526.4 1568.3,1517.5 1605.9,1517.5 1615.3,1492 1652.9,1492 1662.3,1441.4 1709.3,1441.4 1718.7,1362 1746.9,1362 1756.3,1345 1775,1345 1784.6,1321.9 1849.5,1321.9 1860.3,1308.5 1878.3,1273.4 3673.9,1273.4" stroke="#085a9d" stroke-width="2.08" stroke-linecap="square"/>
<polyline points="242.9,2117.7 778.7,2117.7 788.1,2071.1 797.5,2060.1 938.5,2060.1 947.9,2040.7 1013.7,2040.7 1023.1,1983 1041.9,1983 1051.3,1945.2 1145.3,1945.2 1154.7,1937.7 1211.1,1937.7 1220.5,1932.5 1521.3,1932.5 1530.7,1880.3 1587.1,1880.3 1596.5,1872.6 1662.3,1872.6 1671.7,1832.6 1709.3,1832.6 1718.7,1819 1914.3,1819 1923.7,1810.8 3673.9,1810.8" stroke="#5ab9cf" stroke-width="2.08" stroke-linecap="square"/>
<polyline points="242.9,2117.7 440.3,2117.7 449.7,2104.7 628.3,2104.7 637.7,2072.1 647.1,2062.9 759.9,2062.9 769.3,2003 797.5,2003 806.9,1993 1135.9,1993 1145.3,1982.3 1248.7,1982.3 1258.1,1907.1 1305.1,1907.1 1314.5,1870.6 1333.3,1870.6 1342.7,1867.7 1389.7,1867.7 1399.1,1863.5 1493.1,1863.5 1502.5,1859 1530.7,1859 1540.1,1819.6 1652.9,1819.6 1662.3,1780.9 1681.1,1780.9 1690.5,1762.3 1887.9,1762.3 1897.3,1688.5 1916.1,1688.5 1925.5,1668 1940.6,1668 1950,1649.2 3673.9,1649.2" stroke="#2687bc" stroke-width="2.08" stroke-linecap="square"/>
<polyline points="242.9,2117.7 534.3,2117.7 543.7,2064.1 976.1,2064.1 985.5,2052.4 1182.9,2052.4 1192.3,2049.3 1220.5,2049.3 1229.9,2024.7 1239.3,2024.7 1248.7,2022.7 1305.1,2022.7 1314.5,1995.3 1436.7,1995.3 1446.1,1990.8 1577.7,1990.8 1587.1,1986.6 1652.9,1986.6 1662.3,1941.4 1671.7,1817.8 1690.5,1817.8 1699.9,1795.3 1709.3,1795.3 1718.7,1769 1822.1,1769 1831.5,1756 2019.4,1756 2028.8,1729.5 3673.9,1729.5" stroke="#3b9ec8" stroke-width="2.08" stroke-linecap="square"/>
<polyline points="242.9,2117.7 882.1,2117.7 891.5,2087.7 910.3,2087.7 919.7,2065.3 1032.5,2065.3 1041.9,2009.7 1051.3,1979.1 1117.1,1979.1 1126.5,1933.2 1154.7,1933.2 1164.1,1895.9 1211.1,1895.9 1220.5,1886 1258.1,1886 1267.5,1823.6 1276.9,1823.6 1286.3,1799.7 1295.7,1799.7 1305.1,1791.1 1314.5,1710.2 1352.1,1710.2 1361.5,1685.2 1370.9,1658.4 1399.1,1658.4 1408.5,1649.7 1417.9,1649.7 1427.3,1477.9 1436.7,1472.9 1446.1,1472.9 1455.5,1432.7 1464.9,1384.5 1474.3,1384.5 1483.7,1342.5 1493.1,1335.4 1521.3,1335.4 1530.7,1262.5 1558.9,1262.5 1568.3,1223.1 1587.1,1223.1 1596.5,1221 1624.7,1221 1634.1,1215 1671.5,1215 1680.9,1146.6 3673.9,1146.6" stroke="#085698" stroke-width="2.08" stroke-linecap="square"/>
<polyline points="242.9,2117.7 618.9,2117.7 628.3,2090.6 665.9,2090.6 675.3,2045.6 750.5,2045.6 759.9,1929.2 769.3,1929.2 778.7,1925.6 806.9,1925.6 816.3,1909.6 863.3,1909.6 872.7,1862.4 919.7,1862.4 929.1,1858.1 957.3,1858.1 966.7,1856.2 976.1,1856.2 985.5,1818 1182.9,1818 1192.3,1789.9 1220.5,1789.9 1229.9,1761.4 1258.1,1761.4 1267.5,1750.9 1286.3,1750.9 1295.7,1725.2 1323.9,1725.2 1333.3,1711.2 1408.5,1711.2 1417.9,1708.6 1455.5,1708.6 1464.9,1684.2 1493.1,1684.2 1502.5,1602.7 1530.7,1602.7 1540.1,1515.8 1587.1,1515.8 1596.5,1497.6 1634.1,1497.6 1643.5,1478 1841.9,1478 1851.3,1438.4 3673.9,1438.4" stroke="#0864a8" stroke-width="2.08" stroke-linecap="square"/>
<polyline points="242.9,2117.7 580.6,2117.7 590,2018.3 640,2018.3 788.1,2018.3 797.5,2015.2 929.1,2015.2 938.5,1963.8 985.5,1963.8 994.9,1961.7 1004.3,1948.1 1098.3,1948.1 1107.7,1945.9 1182.9,1945.9 1192.3,1923.2 1201.7,1923.2 1211.1,1883.9 1323.9,1883.9 1333.3,1879 1389.7,1879 1399.1,1859.3 1417.9,1859.3 1427.3,1829.9 1502.5,1829.9 1511.9,1825.1 1521.3,1786.8 1558.9,1786.8 1568.3,1739 1728.1,1739 1737.5,1730 1860.6,1730 1870,1699.3 3673.9,1699.3" stroke="#3799c5" stroke-width="2.08" stroke-linecap="square"/>
<polyline points="242.9,2117.7 769.3,2117.7 778.7,2100.5 825.7,2100.5 835.1,1995.8 882.1,1995.8 891.5,1972.6 900.9,1972.6 910.3,1965.8 938.5,1965.8 947.9,1914.9 976.1,1914.9 985.5,1897.5 1032.5,1897.5 1041.9,1873.2 1070.1,1873.2 1079.5,1871.5 1088.9,1829 1135.9,1829 1145.3,1796.3 1182.9,1796.3 1192.3,1780.8 1248.7,1780.8 1258.1,1757.5 1276.9,1757.5 1286.3,1675.3 1305.1,1675.3 1314.5,1587.5 1323.9,1587.5 1333.3,1559.5 1342.7,1546 1352.1,1531.1 1361.5,1510.7 1380.3,1510.7 1389.7,1458.6 1455.5,1458.6 1464.9,1398.8 1521.3,1398.8 1530.7,1387.3 1540.1,1387.3 1549.5,1348.2 1558.9,1348.2 1568.3,1215 1592,1215 1601.6,1150 1605.2,991 1614.9,976.6 1655.7,976.6 1670,957.3 1700.1,957.3 1709.7,937.6 1766.2,937.6 1775.8,935 3673.9,935" stroke="#085194" stroke-width="2.08" stroke-linecap="square"/>
<polyline points="242.9,2117.7 553.1,2117.7 562.5,2094.7 656.5,2094.7 665.9,2055.7 694.1,2055.7 703.5,2033.3 731.7,2033.3 741.1,2024.1 778.7,2024.1 788.1,2019.6 797.5,1992.7 816.3,1992.7 825.7,1989 900.9,1989 910.3,1970.8 919.7,1967.7 1107.7,1967.7 1117.1,1897.1 1164.1,1897.1 1173.5,1892.9 1182.9,1861 1192.3,1861 1201.7,1845.2 1248.7,1845.2 1258.1,1692.9 1323.9,1692.9 1333.3,1636.1 1399.1,1636.1 1408.5,1634.9 1464.9,1634.9 1474.3,1631.2 1483.7,1631.2 1493.1,1617.6 1502.5,1617.6 1511.9,1574 1587.1,1574 1596.5,1564.9 2300.6,1564.9 2310,1521.3 3673.9,1521.3" stroke="#1373b2" stroke-width="2.08" stroke-linecap="square"/>
<polyline points="242.9,2117.7 553.1,2117.7 562.5,2089.4 609.5,2089.4 618.9,2067 665.9,2067 675.3,2059.7 694.1,2059.7 703.5,2053.4 750.5,2053.4 759.9,2050.8 769.3,2050.8 778.7,2043.3 788.1,2007.4 797.5,1965.5 816.3,1965.5 825.7,1948.3 835.1,1905 853,1905 862.9,1831.6 881.7,1831.6 891.2,1634.8 1097.4,1634.8 1107.7,1582.9 1173.4,1582.9 1182.5,1558.6 1210.8,1558.6 1219.2,1484.2 1229.3,1469.9 1248.7,1469.9 1257.9,1428.6 1268,1401.7 1277.4,1401.6 1285.5,1347.1 1295.6,1327.9 1417.9,1327.9 1427,1204.6 1436,1197.3 1461.3,1197.3 1470,1150 1539,1148 1559.6,1147 1568,1140.6 1605.2,1140.6 1614.9,1132.7 1671.3,1132.7 1680.9,1033.5 1727.8,1033.5 1737.4,1025.8 1991.5,1025.8 2000.4,926.8 2019.6,926.8 2029.2,840.9 3673.9,840.9" stroke="#085092" stroke-width="2.08" stroke-linecap="square"/>
<polyline points="242.9,2117.7 665,2117.7 675,1882.9 891.2,1882.9 900.7,1858.6 910,1810 1031,1810 1041.9,1810 1051.3,1801.5 1079.5,1801.5 1088.9,1766.7 1098.3,1744.2 1135.9,1744.2 1145.3,1693.3 1154.7,1691.5 1229.9,1691.5 1239.3,1663.3 1267.5,1663.3 1276.9,1583 1333.3,1583 1342.7,1538.6 1521.3,1538.6 1530.7,1507.8 1615.3,1507.8 1624.7,1498 1699.9,1498 1709.3,1481.6 1924.4,1481.6 1933.8,1469.9 3673.9,1469.9" stroke="#0b6bad" stroke-width="2.08" stroke-linecap="square"/>
<polyline points="242.9,2117.7 524.9,2117.7 534.3,2108.6 694.1,2108.6 703.5,2088.7 769.3,2088.7 778.7,2081.9 891.5,2081.9 900.9,2078.3 910.3,2078.3 919.7,2060.6 1173.5,2060.6 1182.9,2044 1239.3,2044 1248.7,2039.1 1258.1,2036.1 1305.1,2036.1 1314.5,1979.5 1399.1,1979.5 1408.5,1966 1511.9,1966 1521.3,1931.4 1530.7,1900.1 1615.3,1900.1 1624.7,1870.7 1634.1,1803.7 1671.7,1803.7 1681.1,1726.6 1699.9,1726.6 1709.3,1690 1870.6,1690 1880,1658.3 3673.9,1658.3" stroke="#2889bc" stroke-width="2.08" stroke-linecap="square"/>
<polyline points="242.9,2117.7 703.5,2117.7 712.9,2078.1 750.5,2078.1 759.9,2053.5 797.5,2053.5 806.9,2015 919.7,2015 929.1,2013 1004.3,2013 1013.7,1989.6 1126.5,1989.6 1135.9,1944 1154.7,1944 1164.1,1920.9 1276.9,1920.9 1286.3,1903.5 1352.1,1903.5 1361.5,1766.7 1370.9,1675 1380.3,1675 1389.7,1665.6 1399.1,1620.7 1427.3,1620.7 1436.7,1616.9 1446.1,1616.9 1455.5,1487.1 1464.9,1487.1 1474.3,1445.1 1511.9,1445.1 1521.3,1400.5 1568.3,1400.5 1577.7,1392 1587.1,1369.6 1596.5,1340 1606,1340 1615.3,1325.5 1626,1325.5 1634,1178.4 3673.9,1178.4" stroke="#08579a" stroke-width="2.08" stroke-linecap="square"/>
<polyline points="242.9,2117.7 810.3,2117.7 815.7,1826.2 955.9,1826.2 965.3,1820.8 976.1,1784.4 995,1784.4 1013.9,1695.5 1135.2,1695.5 1142,1667.2 1145.3,1667.2 1154.7,1664.1 1164.1,1658.2 1192.3,1658.2 1201.7,1628.7 1211.1,1628.7 1220.5,1549.5 1417.9,1549.5 1427.3,1532.6 1446.1,1532.6 1455.5,1515 1540.1,1515 1549.5,1472.9 1558.9,1452.4 1634.1,1452.4 1643.5,1448.1 1671.7,1448.1 1681.1,1430 1699.6,1430 1709,1390.8 3673.9,1390.8" stroke="#0861a5" stroke-width="2.08" stroke-linecap="square"/>
<polyline points="242.9,2117.7 637.7,2117.7 647.1,2087.6 665.9,2087.6 675.3,2082.2 722.3,2082.2 731.7,2061.7 938.5,2061.7 947.9,2036.3 957.3,2031 1098.3,2031 1107.7,2009.5 1117.1,1992.9 1323.9,1992.9 1333.3,1936.5 1342.7,1936.5 1352.1,1933.8 1399.1,1933.8 1408.5,1889.2 1577.7,1889.2 1587.1,1846.6 2027.6,1846.6 2037,1840.2 3673.9,1840.2" stroke="#62becc" stroke-width="2.08" stroke-linecap="square"/>
<polyline points="242.9,2117.7 656.5,2117.7 665.9,2071.7 675.3,2071.7 684.7,2069.7 694.1,2053.9 741.1,2053.9 750.5,2050.1 853.9,2050.1 863.3,2038.8 929.1,2038.8 938.5,2030.5 947.9,1929.1 966.7,1929.1 976.1,1886.1 1023.1,1886.1 1032.5,1876 1098.3,1876 1107.7,1873.7 1117.1,1862.3 1192.3,1862.3 1201.7,1836.4 1295.7,1836.4 1305.1,1810.6 1389.7,1810.6 1399.1,1680.3 1408.5,1680.3 1417.9,1615 1427.3,1615 1436.7,1591.4 1446.1,1583.5 1558.9,1583.5 1568.3,1529.5 1624.7,1529.5 1634.1,1524 1962.8,1524 1972.2,1512.8 3673.9,1512.8" stroke="#1070b0" stroke-width="2.08" stroke-linecap="square"/>
<polyline points="242.9,2117.7 468.5,2117.7 477.9,2065.3 487.3,2065.3 496.7,2037.2 722.3,2037.2 731.7,2020.5 825.7,2020.5 835.1,2014.1 947.9,2014.1 957.3,1946.2 1023.1,1946.2 1032.5,1936.2 1145.3,1936.2 1154.7,1907.4 1276.9,1907.4 1286.3,1898.8 1361.5,1898.8 1370.9,1894.6 1474.3,1894.6 1483.7,1858 1596.5,1858 1605.9,1822.9 1671.7,1822.9 1681.1,1817 1934.9,1817 1944.3,1815 2047.6,1815 2057,1796.2 3673.9,1796.2" stroke="#4fb3d3" stroke-width="2.08" stroke-linecap="square"/>
<polyline points="242.9,2117.7 543.7,2117.7 553.1,2107.9 562.5,2107.9 571.9,2104.7 600.1,2104.7 609.5,2029.9 712.9,2029.9 722.3,2025.9 919.7,2025.9 929.1,2017.2 976.1,2017.2 985.5,2000 1173.5,2000 1182.9,1995.7 1192.3,1989 1483.7,1989 1493.1,1959.8 1624.7,1959.8 1634.1,1951.5 1662.3,1951.5 1671.7,1940 1690.5,1940 1699.9,1930 1790.6,1930 1800,1906.7 3673.9,1906.7" stroke="#72c7c7" stroke-width="2.08" stroke-linecap="square"/>
<polyline points="242.9,2117.7 590.7,2117.7 600.1,2072.4 797.5,2072.4 806.9,2061.6 891.5,2061.6 900.9,1928.3 957.3,1928.3 966.7,1880.3 1051.3,1880.3 1060.7,1861.3 1201.7,1861.3 1211.1,1854.1 1220.5,1812 1239.3,1812 1248.7,1792.5 1333.3,1792.5 1342.7,1749.4 1352.1,1734.1 1399.1,1734.1 1408.5,1690.2 1417.9,1690.2 1427.3,1668 1493.1,1668 1502.5,1654.3 1558.9,1654.3 1568.3,1566.8 1577.7,1516 1605.9,1516 1615.3,1513 1662.3,1513 1671.7,1486.5 1784.5,1486.5 1793.9,1480 1822,1480 1831.5,1461 1858.5,1461 1867.5,1454.3 3673.9,1454.3" stroke="#0868ab" stroke-width="2.08" stroke-linecap="square"/>
<polyline points="242.9,2117.7 891.5,2117.7 900.9,2073.4 919.7,2073.4 929.1,2066 947.9,2066 957.3,1994.1 966.7,1994.1 976.1,1964.8 1004.3,1964.8 1013.7,1916.7 1023.1,1908.8 1060.7,1908.8 1070.1,1902.5 1126.5,1902.5 1135.9,1858.5 1145.3,1855.1 1201.7,1855.1 1211.1,1815.9 1248.7,1815.9 1258.1,1813.5 1267.5,1810 1295.7,1810 1305.1,1768.5 1333.3,1768.5 1342.7,1764.3 1587.1,1764.3 1596.5,1730.9 1699.9,1730.9 1709.3,1722 2040.6,1722 2050,1701.8 3673.9,1701.8" stroke="#399bc6" stroke-width="2.08" stroke-linecap="square"/>
<polyline points="242.9,2117.7 628.3,2117.7 637.7,2080.5 938.5,2080.5 947.9,1955 957.3,1941 1088.9,1941 1098.3,1925 1107.7,1911 1117.1,1840 1145.3,1840 1154.7,1617.3 1182,1617.3 1191,1614.8 1248,1614.8 1257.9,1575.5 1267,1574 1276.5,1524 1286.6,1524 1296.7,1499.4 1308.5,1496 1325.3,1494.3 1337.1,1469.1 1343.8,1469.1 1352.3,1434 1390.2,1434 1409,1345.3 1425.2,1345.3 1433,1240 1438.7,1232 1465.6,1227 1471,1188 1484.5,1165 1541.6,1165 1549,1160 1558.6,1026.1 1575.9,1026.1 1582,1023.5 1591,1021.6 1600,1020.5 1611,1018.8 1623,1017.3 1636,1015.6 1643,1015.2 1652,1012.8 1662,1012 1679.1,880.9 1698,880.9 1708.8,867.4 1727.6,867.4 1737.7,848.5 1756.6,848.5 1768.4,821 1772,650 1841.5,649.5 1846.2,649 1860.4,634 1879.2,634 1893.4,618.6 1924,618.6 1938.2,604.5 2075,604.5 2086.8,559.8 3674,559.8" stroke="#08306b" stroke-width="20.8" stroke-linecap="square"/>
<polyline points="242.9,2117.7 811,2117.7 820,2112.9 957,2112.9 967,2104.3 1150,2104.3 1160,2006 1345,2006 1356,1993.6 1448,1993.6 1458.7,1970.2 3674,1970.2" stroke="#6baed6" stroke-width="20.8" stroke-linecap="square"/>
<polyline points="242.9,2117.7 445,2117.7 500,2117.2 548,2116.1 596,2114.4 644,2112.1 700,2105 750,2100.5 800,2092.5 850,2080 900,2069 950,2056 994,2036 1042,2018 1090,1998 1138,1975 1186,1950 1234,1924 1297,1878 1345.6,1843 1394,1810.5 1442.6,1776.5 1491,1740 1540,1699 1600,1665 1648,1643.3 1696,1617 1744,1595.3 1792,1576.1 1840,1561.7 1888,1552.1 1936,1544.9 1984,1541.3 2032,1540.2 2100,1540.5 3674,1540.8" stroke="#2171b5" stroke-width="20.8" stroke-linecap="square"/>
<polyline points="242.9,2117.7 806.9,2117.7 816.3,2092.9 957.3,2092.9 966.7,2072.3 1238.9,2071.5 1250,2066.8 1270,2063.5 1274.5,2062.4 1285.6,2041 1381.2,2040.6 1390.1,1955 1428,1955 1436.8,1930.1 1483.5,1930.1 1496.8,1914.5 1523.5,1914.5 1539.8,1658 1548,1651 1557.6,1621 1566,1616.9 2133,1616.9 2142.7,1493.6 3626.9,1493.6" stroke="#000" stroke-width="20.8" stroke-linecap="square"/>
</g>
<circle cx="3627.3" cy="1494" r="22.6" fill="#000"/>
<rect x="196.5" y="270.5" width="3487" height="1847.8" fill="none" stroke="#fff" stroke-width="3.3"/>
<path d="M3683.5 2117.7H3698.1M3683.5 1875.2H3698.1M3683.5 1632.7H3698.1M3683.5 1390.2H3698.1M3683.5 1147.7H3698.1M3683.5 905.2H3698.1M3683.5 662.7H3698.1M3683.5 420.2H3698.1" stroke="#fff" stroke-width="3.3"/>
<text x="122" y="2133" font-size="43.8" text-anchor="start" fill="#fff" textLength="42.7" lengthAdjust="spacingAndGlyphs">0"</text>
<text x="95.6" y="1886.6" font-size="43.8" text-anchor="start" fill="#fff" textLength="69.2" lengthAdjust="spacingAndGlyphs">10"</text>
<text x="95.3" y="1640.2" font-size="43.8" text-anchor="start" fill="#fff" textLength="69.5" lengthAdjust="spacingAndGlyphs">20"</text>
<text x="96" y="1393.9" font-size="43.8" text-anchor="start" fill="#fff" textLength="68.8" lengthAdjust="spacingAndGlyphs">30"</text>
<text x="95.6" y="1147.5" font-size="43.8" text-anchor="start" fill="#fff" textLength="69.2" lengthAdjust="spacingAndGlyphs">40"</text>
<text x="96" y="901.1" font-size="43.8" text-anchor="start" fill="#fff" textLength="68.8" lengthAdjust="spacingAndGlyphs">50"</text>
<text x="95.1" y="654.7" font-size="43.8" text-anchor="start" fill="#fff" textLength="69.7" lengthAdjust="spacingAndGlyphs">60"</text>
<text x="95.6" y="408.3" font-size="43.8" text-anchor="start" fill="#fff" textLength="69.2" lengthAdjust="spacingAndGlyphs">70"</text>
<text x="3711.9" y="2133.2" font-size="43.8" text-anchor="start" fill="#fff" textLength="24.4" lengthAdjust="spacingAndGlyphs">0</text>
<text x="3711.6" y="1890.7" font-size="43.8" text-anchor="start" fill="#fff" textLength="77.9" lengthAdjust="spacingAndGlyphs">250</text>
<text x="3712.3" y="1648.2" font-size="43.8" text-anchor="start" fill="#fff" textLength="77.2" lengthAdjust="spacingAndGlyphs">500</text>
<text x="3711.9" y="1405.7" font-size="43.8" text-anchor="start" fill="#fff" textLength="77.5" lengthAdjust="spacingAndGlyphs">750</text>
<text x="3711.9" y="1163.2" font-size="43.8" text-anchor="start" fill="#fff" textLength="104.1" lengthAdjust="spacingAndGlyphs">1000</text>
<text x="3711.9" y="920.7" font-size="43.8" text-anchor="start" fill="#fff" textLength="104.1" lengthAdjust="spacingAndGlyphs">1250</text>
<text x="3711.9" y="678.2" font-size="43.8" text-anchor="start" fill="#fff" textLength="104.1" lengthAdjust="spacingAndGlyphs">1500</text>
<text x="3711.9" y="435.7" font-size="43.8" text-anchor="start" fill="#fff" textLength="104.1" lengthAdjust="spacingAndGlyphs">1750</text>
<text x="187.6" y="2178.8" font-size="43.8" text-anchor="start" fill="#fff" textLength="110" lengthAdjust="spacingAndGlyphs">Oct 1</text>
<text x="473.7" y="2178.8" font-size="43.8" text-anchor="start" fill="#fff" textLength="119.1" lengthAdjust="spacingAndGlyphs">Nov 1</text>
<text x="746.7" y="2178.8" font-size="43.8" text-anchor="start" fill="#fff" textLength="118.4" lengthAdjust="spacingAndGlyphs">Dec 1</text>
<text x="1046.2" y="2178.8" font-size="43.8" text-anchor="start" fill="#fff" textLength="105.1" lengthAdjust="spacingAndGlyphs">Jan 1</text>
<text x="1322.4" y="2178.8" font-size="43.8" text-anchor="start" fill="#fff" textLength="113.7" lengthAdjust="spacingAndGlyphs">Feb 1</text>
<text x="1612.4" y="2178.8" font-size="43.8" text-anchor="start" fill="#fff" textLength="116.4" lengthAdjust="spacingAndGlyphs">Mar 1</text>
<text x="1899.5" y="2178.8" font-size="43.8" text-anchor="start" fill="#fff" textLength="110" lengthAdjust="spacingAndGlyphs">Apr 1</text>
<text x="2182.1" y="2178.8" font-size="43.8" text-anchor="start" fill="#fff" textLength="123.9" lengthAdjust="spacingAndGlyphs">May 1</text>
<text x="2483.9" y="2178.8" font-size="43.8" text-anchor="start" fill="#fff" textLength="106" lengthAdjust="spacingAndGlyphs">Jun 1</text>
<text x="2773.4" y="2178.8" font-size="43.8" text-anchor="start" fill="#fff" textLength="91.1" lengthAdjust="spacingAndGlyphs">Jul 1</text>
<text x="3051" y="2178.8" font-size="43.8" text-anchor="start" fill="#fff" textLength="119.3" lengthAdjust="spacingAndGlyphs">Aug 1</text>
<text x="3333.7" y="2178.8" font-size="43.8" text-anchor="start" fill="#fff" textLength="115.9" lengthAdjust="spacingAndGlyphs">Sep 1</text>
<text x="822" y="94.1" font-size="88.3" text-anchor="start" fill="#fff" textLength="2123" lengthAdjust="spacingAndGlyphs">2020-2021 Accumulated Snowfall For Paulding, OH</text>
<text x="345" y="245.2" font-size="53" text-anchor="start" fill="#fff" textLength="3188.2" lengthAdjust="spacingAndGlyphs">GHCN-D ID= USC00336465 | LAT= 41.1247 | LON= -84.5919 | ELEV= 725' | Period= 1914-2021 | Season To Date Report= 99%</text>
<text transform="translate(67 1579.9) rotate(-90)" x="-0.1" y="0" font-size="53" fill="#fff" textLength="769.8" lengthAdjust="spacingAndGlyphs">Accumulated Snowfall (inches)</text>
<text transform="translate(3864 841.9) rotate(90)" x="-0.1" y="0" font-size="53" fill="#fff" textLength="705.7" lengthAdjust="spacingAndGlyphs">Accumulated Snowfall (mm)</text>
<rect x="196.1" y="2218" width="3486.6" height="87.7" rx="8" ry="8" fill="#666666" stroke="#b5b5b5" stroke-width="4.1"/>
<rect x="206.1" y="2249" width="120.7" height="20.8" fill="#08306b"/>
<text x="355.4" y="2277.5" font-size="53" text-anchor="start" fill="#fff" textLength="629" lengthAdjust="spacingAndGlyphs" xml:space="preserve">Max (2013-2014):   63.2"</text>
<rect x="1084.1" y="2249" width="120.9" height="20.8" fill="#6baed6"/>
<text x="1231.6" y="2277.5" font-size="53" text-anchor="start" fill="#fff" textLength="600.3" lengthAdjust="spacingAndGlyphs" xml:space="preserve">Min (1968-1969):    6.0"</text>
<rect x="1931.3" y="2249" width="120.9" height="20.8" fill="#2171b5"/>
<text x="2082.1" y="2277.5" font-size="53" text-anchor="start" fill="#fff" textLength="617" lengthAdjust="spacingAndGlyphs" xml:space="preserve">Avg (1991-2020):   23.6"</text>
<rect x="2798.8" y="2249" width="121.3" height="20.8" fill="#000000"/>
<text x="2947.3" y="2277.5" font-size="53" text-anchor="start" fill="#fff" textLength="715.9" lengthAdjust="spacingAndGlyphs" xml:space="preserve">Current (2020-2021):   25.3"</text>
</svg>
</body></html>
